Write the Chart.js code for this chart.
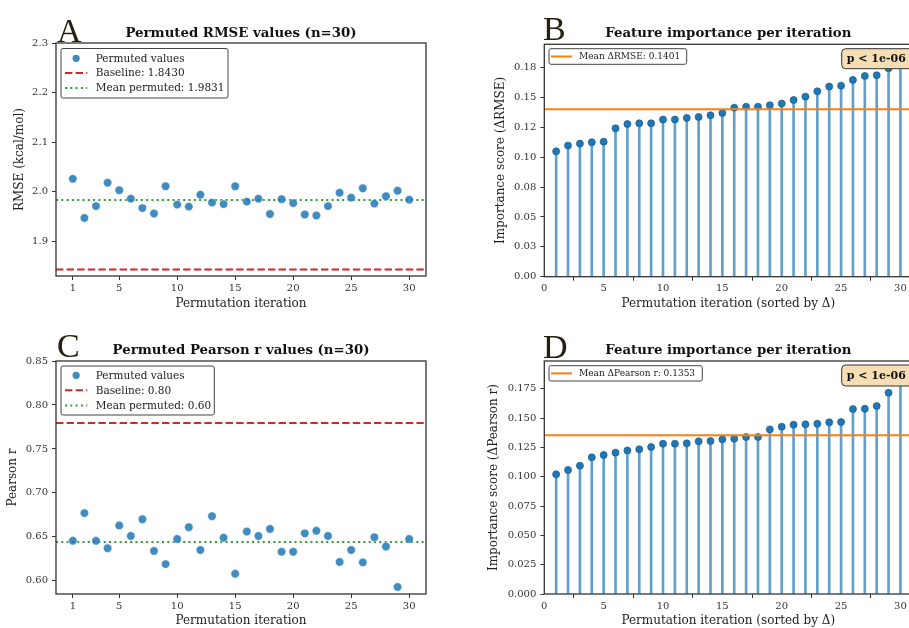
<!DOCTYPE html>
<html>
<head>
<meta charset="utf-8">
<script src="https://cdn.jsdelivr.net/npm/chart.js@4.4.1/dist/chart.umd.min.js"></script>
<style>
  html, body { margin: 0; padding: 0; background: #fff; }
  body { width: 909px; height: 628px; overflow: hidden; position: relative; }
  canvas { position: absolute; }
</style>
</head>
<body>
<canvas id="cA" width="450" height="314" style="left:0;top:0"></canvas>
<canvas id="cB" width="480" height="314" style="left:450px;top:0"></canvas>
<canvas id="cC" width="450" height="314" style="left:0;top:314px"></canvas>
<canvas id="cD" width="480" height="314" style="left:450px;top:314px"></canvas>
<script>
// --- data ---
const iterations = [1,2,3,4,5,6,7,8,9,10,11,12,13,14,15,16,17,18,19,20,21,22,23,24,25,26,27,28,29,30];

const rmsePermuted = [2.026,1.947,1.971,2.018,2.003,1.986,1.967,1.956,2.011,1.974,1.970,1.994,1.978,1.975,2.011,
                      1.980,1.986,1.955,1.985,1.977,1.954,1.952,1.971,1.998,1.988,2.007,1.976,1.991,2.002,1.984];
const rmseBaseline = 1.8430;
const rmseMean = 1.9831;

const pearsonPermuted = [0.6455,0.677,0.6455,0.637,0.663,0.651,0.670,0.634,0.619,0.6475,0.661,0.635,0.6735,0.649,0.608,
                         0.656,0.651,0.659,0.633,0.633,0.654,0.657,0.651,0.6215,0.635,0.621,0.6495,0.639,0.593,0.6475];
const pearsonBaseline = 0.7795;
const pearsonMean = 0.644;
const pearsonBaselineText = 'Baseline: 0.80';
const pearsonMeanText = 'Mean permuted: 0.60';

const deltaRmse = [0.1049,0.1097,0.1114,0.1125,0.1130,0.1242,0.1278,0.1284,0.1284,0.1315,0.1315,0.1329,0.1337,0.1351,0.1370,
                   0.1415,0.1423,0.1423,0.1435,0.1449,0.1479,0.1507,0.1552,0.1591,0.1599,0.1647,0.1680,0.1686,0.1744,0.1852];
const deltaRmseMean = 0.1401;

const deltaPearson = [0.1020,0.1057,0.1094,0.1165,0.1185,0.1205,0.1224,0.1233,0.1253,0.1281,0.1281,0.1284,0.1301,0.1304,0.1318,
                      0.1324,0.1338,0.1338,0.1403,0.1426,0.1443,0.1446,0.1451,0.1463,0.1466,0.1576,0.1579,0.1602,0.1715,0.1891];
const deltaPearsonMean = 0.1353;

const iterTicks = [1,5,10,15,20,25,30];
const sortedTicks = [0,5,10,15,20,25,30];
const rmseTicks = [1.9,2.0,2.1,2.2,2.3];
const pearsonTicks = [0.60,0.65,0.70,0.75,0.80,0.85];
const importanceTicks = [0,0.025,0.05,0.075,0.1,0.125,0.15,0.175];
const importanceLabelsB = ['0.00','0.03','0.05','0.08','0.10','0.12','0.15','0.18'];

// --- styling ---
const SERIF = '"DejaVu Serif", serif';
const BLUE = '#1f77b4';
const STEM = 'rgb(98,160,203)';
const RED = '#d62728';
const GREEN = '#2ca02c';
const ORANGE = '#ff7f0e';

Chart.defaults.animation = false;
Chart.defaults.responsive = false;
Chart.defaults.font.family = SERIF;

// draws frame, panel letter, title, legend box and p-value box
const decor = {
  id: 'decor',
  afterDatasetsDraw(chart) {
    const ctx = chart.ctx, a = chart.chartArea;
    ctx.save();
    ctx.strokeStyle = '#333';
    ctx.lineWidth = 1.3;
    ctx.strokeRect(a.left, a.top, a.right - a.left, a.bottom - a.top);
    ctx.restore();
  },
  afterDraw(chart, args, o) {
    const ctx = chart.ctx, a = chart.chartArea;
    ctx.save();
    ctx.textBaseline = 'alphabetic';
    // letter
    ctx.fillStyle = '#26200f';
    ctx.font = '34px "Liberation Serif", serif';
    ctx.textAlign = 'left';
    ctx.fillText(o.letter, o.letterX, o.letterY);
    // title
    ctx.fillStyle = '#111';
    ctx.font = 'bold 13.3px ' + SERIF;
    ctx.textAlign = 'center';
    ctx.fillText(o.title, (a.left + a.right) / 2, o.titleY);

    // legend
    const L = o.legend;
    ctx.beginPath();
    ctx.roundRect(L.x, L.y, L.w, L.h, 2);
    ctx.fillStyle = 'rgba(255,255,255,0.85)';
    ctx.fill();
    ctx.strokeStyle = '#444';
    ctx.lineWidth = 1;
    ctx.stroke();
    ctx.font = L.size + 'px ' + SERIF;
    ctx.textAlign = 'left';
    ctx.textBaseline = 'middle';
    L.items.forEach((it, i) => {
      const ds = chart.data.datasets[it.ds];
      const y = L.rowY[i];
      if (it.kind === 'marker') {
        ctx.beginPath();
        ctx.arc(L.sx + (L.sw / 2), y, 3.6, 0, Math.PI * 2);
        ctx.fillStyle = ds.backgroundColor;
        ctx.fill();
      } else {
        ctx.beginPath();
        ctx.setLineDash(ds.borderDash || []);
        ctx.strokeStyle = ds.borderColor;
        ctx.lineWidth = ds.borderWidth;
        ctx.moveTo(L.sx, y);
        ctx.lineTo(L.sx + L.sw, y);
        ctx.stroke();
        ctx.setLineDash([]);
      }
      ctx.fillStyle = '#222';
      ctx.fillText(it.text || ds.label, L.tx, y + 0.5);
    });

    // p-value box
    if (o.pbox) {
      const P = o.pbox;
      ctx.beginPath();
      ctx.roundRect(P.x, P.y, P.w, P.h, 4);
      ctx.fillStyle = '#f5deb3';
      ctx.fill();
      ctx.strokeStyle = '#333';
      ctx.lineWidth = 1;
      ctx.stroke();
      ctx.fillStyle = '#111';
      ctx.font = 'bold 11px ' + SERIF;
      ctx.textBaseline = 'middle';
      ctx.fillText(P.text, P.x + 5, P.y + P.h / 2 + 0.5);
    }
    ctx.restore();
  }
};

function axes(o) {
  const tickFont = { family: SERIF, size: 10 };
  const grid = { display: true, drawOnChartArea: false, drawTicks: true, tickLength: 4, tickColor: '#333', tickWidth: 1 };
  return {
    x: {
      type: 'linear', min: o.xMin, max: o.xMax, offset: false,
      afterBuildTicks: s => { s.ticks = o.xTicks.map(v => ({ value: v })); },
      afterFit: s => { s.height = o.xH; },
      ticks: { font: tickFont, color: '#333', padding: 2, maxRotation: 0, autoSkip: false, callback: v => String(v) },
      grid, border: { display: false },
      title: { display: true, text: o.xTitle, font: { family: SERIF, size: 12 }, color: '#222', padding: { top: 0, bottom: o.xTitlePad } }
    },
    y: {
      type: 'linear', min: o.yMin, max: o.yMax,
      afterBuildTicks: s => { s.ticks = o.yTicks.map(v => ({ value: v })); },
      afterFit: s => { s.width = o.yW; },
      ticks: { font: tickFont, color: '#333', padding: 4, autoSkip: false, callback: o.yFmt },
      grid, border: { display: false },
      title: { display: true, text: o.yTitle, font: { family: SERIF, size: 12 }, color: '#222', padding: { top: o.yTitlePad, bottom: 0 } }
    }
  };
}

function hline(label, v, xMin, xMax, color, dash, order) {
  return {
    type: 'line', label, data: [{ x: xMin, y: v }, { x: xMax, y: v }],
    borderColor: color, borderWidth: 2, borderDash: dash, pointRadius: 0, order
  };
}

function permutedChart(id, values, base, mean, baseText, meanText, y, top, legend, letter, title) {
  const xMin = -0.45, xMax = 31.45;
  new Chart(document.getElementById(id), {
    type: 'scatter',
    data: {
      datasets: [
        { label: 'Permuted values', data: iterations.map((it, i) => ({ x: it, y: values[i] })),
          backgroundColor: 'rgba(31,119,180,0.85)', borderColor: 'rgba(255,255,255,0.7)', borderWidth: 0.6,
          pointRadius: 4.2, order: 1 },
        hline(baseText, base, xMin, xMax, RED, [7.4, 3.2], 2),
        hline(meanText, mean, xMin, xMax, GREEN, [2, 3.3], 2)
      ]
    },
    options: {
      layout: { padding: { left: 0, top: top, right: 24, bottom: 0 } },
      plugins: {
        legend: { display: false }, tooltip: { enabled: false },
        decor: Object.assign({ letter, title, legend }, y.decor)
      },
      scales: axes(Object.assign({ xMin, xMax, xTicks: iterTicks, xTitle: 'Permutation iteration', yW: 56 }, y))
    },
    plugins: [decor]
  });
}

function importanceChart(id, values, mean, meanText, y, top, legend, pbox, letter, title) {
  const xMin = 0, xMax = 31;
  new Chart(document.getElementById(id), {
    type: 'scatter',
    data: {
      datasets: [
        hline(meanText, mean, xMin, xMax, ORANGE, [], 0),
        { type: 'scatter', label: 'Delta', data: iterations.map((it, i) => ({ x: it, y: values[i] })),
          backgroundColor: BLUE, borderColor: '#17598a', borderWidth: 0.7, pointRadius: 3.5, order: 1 },
        { type: 'bar', label: 'Stem', data: iterations.map((it, i) => ({ x: it, y: values[i] })),
          backgroundColor: STEM, barThickness: 2, order: 2 }
      ]
    },
    options: {
      layout: { padding: { left: 0, top: top, right: 17.7, bottom: 0 } },
      plugins: {
        legend: { display: false }, tooltip: { enabled: false },
        decor: Object.assign({ letter, title, legend, pbox }, y.decor)
      },
      scales: axes(Object.assign({ xMin, xMax, xTicks: sortedTicks, xTitle: 'Permutation iteration (sorted by \u0394)', yW: 94.3 }, y))
    },
    plugins: [decor]
  });
}

permutedChart('cA', rmsePermuted, rmseBaseline, rmseMean, 'Baseline: 1.8430', 'Mean permuted: 1.9831',
  { yMin: 1.83, yMax: 2.3, yTicks: rmseTicks, yFmt: v => v.toFixed(1), yTitle: 'RMSE (kcal/mol)', yTitlePad: 12.8,
    xH: 38, xTitlePad: 2.8, decor: { letterX: 57, letterY: 41.7, titleY: 37 } },
  43,
  { x: 61, y: 48.5, w: 167, h: 49.5, size: 10.5, sx: 65, sw: 22.3, tx: 95.7, rowY: [58.3, 72.9, 88],
    items: [{ ds: 0, kind: 'marker' }, { ds: 1 }, { ds: 2 }] },
  'A', 'Permuted RMSE values (n=30)');

permutedChart('cC', pearsonPermuted, pearsonBaseline, pearsonMean, pearsonBaselineText, pearsonMeanText,
  { yMin: 0.585, yMax: 0.85, yTicks: pearsonTicks, yFmt: v => v.toFixed(2), yTitle: 'Pearson r', yTitlePad: 5.8,
    xH: 34, xTitlePad: 0, decor: { letterX: 57, letterY: 42.7, titleY: 40.3 } },
  47,
  { x: 61, y: 52, w: 153.3, h: 49, size: 10.5, sx: 65, sw: 22.3, tx: 95.7, rowY: [61.3, 76.3, 91.5],
    items: [{ ds: 0, kind: 'marker' }, { ds: 1 }, { ds: 2 }] },
  'C', 'Permuted Pearson r values (n=30)');

importanceChart('cB', deltaRmse, deltaRmseMean, 'Mean \u0394RMSE: 0.1401',
  { yMin: 0, yMax: 0.1945, yTicks: importanceTicks, yFmt: (v, i) => importanceLabelsB[i], yTitle: 'Importance score (\u0394RMSE)',
    yTitlePad: 43.5, xH: 37.3, xTitlePad: 2.8, decor: { letterX: 93, letterY: 39.5, titleY: 37 } },
  44.3,
  { x: 99, y: 48.7, w: 137.7, h: 15.6, size: 9, sx: 101, sw: 21, tx: 129, rowY: [56.5],
    items: [{ ds: 0 }] },
  { x: 391.7, y: 48.7, w: 90, h: 20, text: 'p < 1e-06' },
  'B', 'Feature importance per iteration');

importanceChart('cD', deltaPearson, deltaPearsonMean, 'Mean \u0394Pearson r: 0.1353',
  { yMin: 0, yMax: 0.1986, yTicks: importanceTicks, yFmt: v => v.toFixed(3), yTitle: 'Importance score (\u0394Pearson r)',
    yTitlePad: 36.8, xH: 34, xTitlePad: 0, decor: { letterX: 93, letterY: 43.7, titleY: 40.3 } },
  47,
  { x: 99, y: 51.7, w: 153.3, h: 15.3, size: 9, sx: 101, sw: 21, tx: 129, rowY: [59.4],
    items: [{ ds: 0 }] },
  { x: 391.7, y: 51, w: 90, h: 21, text: 'p < 1e-06' },
  'D', 'Feature importance per iteration');
</script>
</body>
</html>
